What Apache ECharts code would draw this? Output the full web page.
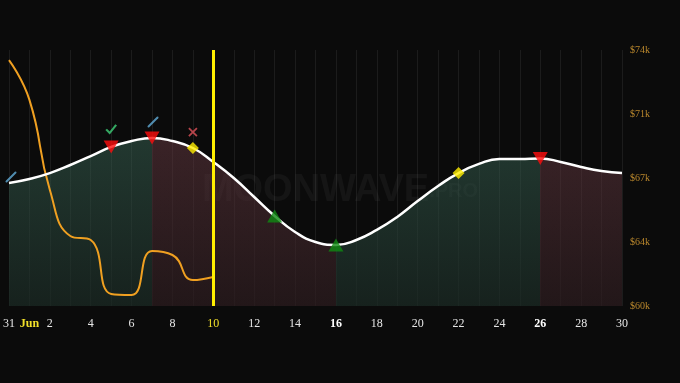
<!DOCTYPE html>
<html>
<head>
<meta charset="utf-8">
<script src="https://cdn.jsdelivr.net/npm/echarts@6/dist/echarts.min.js"></script>
<style>
html,body{margin:0;padding:0;background:#0b0b0b;}
#chart{width:680px;height:383px;}
</style>
</head>
<body>
<div id="chart"></div>
<script>
// categories: May 31 followed by June 1..30
const days = ['31','1','2','3','4','5','6','7','8','9','10','11','12','13','14','15','16','17','18','19','20','21','22','23','24','25','26','27','28','29','30'];
const tickLabels = ['31','Jun','2','3','4','5','6','7','8','9','10','11','12','13','14','15','16','17','18','19','20','21','22','23','24','25','26','27','28','29','30'];
// price (USD)
const price = [66730, 66950, 67270, 67710, 68200, 68700, 69020, 69190, 69020, 68640, 67880, 67000, 65960, 64920, 64050, 63500, 63340, 63610, 64160, 64870, 65740, 66560, 67270, 67770, 68040, 68040, 68070, 67880, 67600, 67380, 67270];
// orange indicator series (same scale)
const indicator = [73450, 71270, 66340, 63830, 63610, 60660, 60600, 63010, 62790, 61420, 61590];
// y ticks
const yMin = 60000, yMax = 74000, yStep = 3500;
// events (day indices)
const sellDays = [5, 7, 26];
const buyDays = [13, 16];
const diamondDays = [9, 22];
const checkDays = [5];
const crossDays = [9];
const slashDays = [0, 7];
const currentDay = '10';
// zone boundaries (day index where zone colour switches): green, red, green, red
const zoneBreaks = [7, 16, 26];

const chart = echarts.init(document.getElementById('chart'));
const n = days.length - 1;
const G = 'rgba(62,111,93,0.45)', R = 'rgba(115,64,73,0.45)';
const zoneStops = [
  {offset: 0, color: G}, {offset: zoneBreaks[0]/n, color: G},
  {offset: zoneBreaks[0]/n, color: R}, {offset: zoneBreaks[1]/n, color: R},
  {offset: zoneBreaks[1]/n, color: G}, {offset: zoneBreaks[2]/n, color: G},
  {offset: zoneBreaks[2]/n, color: R}, {offset: 1, color: R}
];
const pts = idxs => idxs.map(i => [days[i], price[i]]);
const smooth = 0.5;

const option = {
  backgroundColor: '#0b0b0b',
  animation: false,
  grid: {left: 9, right: 58, top: 50, bottom: 77},
  graphic: [{
    type: 'text', left: 'center', top: 172, silent: true, z: 0,
    style: {
      text: '{a|MOONWAVE}{b|.PRO}',
      rich: {
        a: {fontFamily: 'Liberation Sans', fontWeight: 'bold', fontSize: 38, fill: 'rgba(255,255,255,0.045)'},
        b: {fontFamily: 'Liberation Sans', fontWeight: 'bold', fontSize: 20, fill: 'rgba(255,255,255,0.045)'}
      }
    }
  }],
  xAxis: {
    type: 'category', data: days, boundaryGap: false,
    axisLine: {show: false}, axisTick: {show: false},
    splitLine: {show: true, interval: 0, lineStyle: {color: 'rgba(255,255,255,0.07)', width: 1}},
    axisLabel: {
      interval: (i) => i <= 1 || i % 2 === 0,
      margin: 12,
      fontFamily: 'Liberation Serif', fontSize: 12, color: '#e6e6e6',
      formatter: (v, i) => {
        const t = tickLabels[i];
        if (i === 1) return '{jun|' + t + '}';
        if (v === currentDay) return '{cur|' + t + '}';
        if (i === 16 || i === 26) return '{b|' + t + '}';
        return t;
      },
      rich: {
        jun: {fontFamily: 'Liberation Serif', fontSize: 12, fontWeight: 'bold', color: '#f2e02a'},
        cur: {fontFamily: 'Liberation Serif', fontSize: 12, color: '#f2e02a'},
        b: {fontFamily: 'Liberation Serif', fontSize: 12, fontWeight: 'bold', color: '#ffffff'}
      }
    }
  },
  yAxis: {
    type: 'value', position: 'right', min: yMin, max: yMax, interval: yStep,
    splitLine: {show: false}, axisLine: {show: false}, axisTick: {show: false},
    axisLabel: {
      margin: 8, fontFamily: 'Liberation Serif', fontSize: 10, color: '#b8862c',
      formatter: v => '$' + Math.round(v / 1000) + 'k'
    }
  },
  series: [
    {
      type: 'line', data: price, smooth: smooth, symbol: 'none', silent: true, z: 1,
      lineStyle: {width: 0, opacity: 0},
      areaStyle: {color: new echarts.graphic.LinearGradient(0, 0, 1, 0, zoneStops), opacity: 1}
    },
    {
      type: 'line', data: price, smooth: smooth, symbol: 'none', silent: true, z: 1,
      lineStyle: {width: 0, opacity: 0},
      areaStyle: {color: new echarts.graphic.LinearGradient(0, 0, 0, 1, [
        {offset: 0, color: 'rgba(11,11,11,0)'}, {offset: 1, color: 'rgba(11,11,11,0.5)'}
      ]), opacity: 1}
    },
    {
      type: 'line', data: indicator, smooth: smooth, symbol: 'none', z: 3,
      lineStyle: {color: '#f0a021', width: 2}
    },
    {
      type: 'line', data: price, smooth: smooth, symbol: 'none', z: 4,
      lineStyle: {color: '#ffffff', width: 2.5},
      markLine: {
        silent: true, symbol: ['none', 'none'], label: {show: false},
        lineStyle: {color: '#ffee00', width: 3, type: 'solid'},
        data: [{xAxis: currentDay}]
      }
    },
    {
      type: 'scatter', data: pts(sellDays), symbol: 'triangle', symbolRotate: 180,
      symbolSize: [15, 13], z: 6, itemStyle: {color: '#ff0d0d'}
    },
    {
      type: 'scatter', data: pts(buyDays), symbol: 'triangle',
      symbolSize: [15, 13], z: 6, itemStyle: {color: '#0f8a12'}
    },
    {
      type: 'scatter', data: pts(diamondDays), symbol: 'diamond',
      symbolSize: 12, z: 6, itemStyle: {color: '#ffee00'}
    },
    {
      type: 'scatter', data: pts(checkDays), symbol: 'path://M0,5 L3.5,9 L10,0', symbolKeepAspect: true,
      symbolSize: [10, 9], symbolOffset: [0, -18], z: 6,
      itemStyle: {color: 'none', borderColor: '#3fcf78', borderWidth: 2}
    },
    {
      type: 'scatter', data: pts(crossDays), symbol: 'path://M0,0 L10,10 M10,0 L0,10', symbolKeepAspect: true,
      symbolSize: 8, symbolOffset: [0, -16], z: 6,
      itemStyle: {color: 'none', borderColor: '#e0535a', borderWidth: 1.8}
    },
    {
      type: 'scatter',
      data: slashDays.map((d, k) => ({value: [days[d], price[d]], symbolOffset: k === 0 ? [2, -6] : [1, -16]})),
      symbol: 'path://M0,10 L10,0', symbolKeepAspect: true,
      symbolSize: 9, z: 6,
      itemStyle: {color: 'none', borderColor: '#62acd8', borderWidth: 2, borderCap: 'round'}
    }
  ]
};
chart.setOption(option);
</script>
</body>
</html>
